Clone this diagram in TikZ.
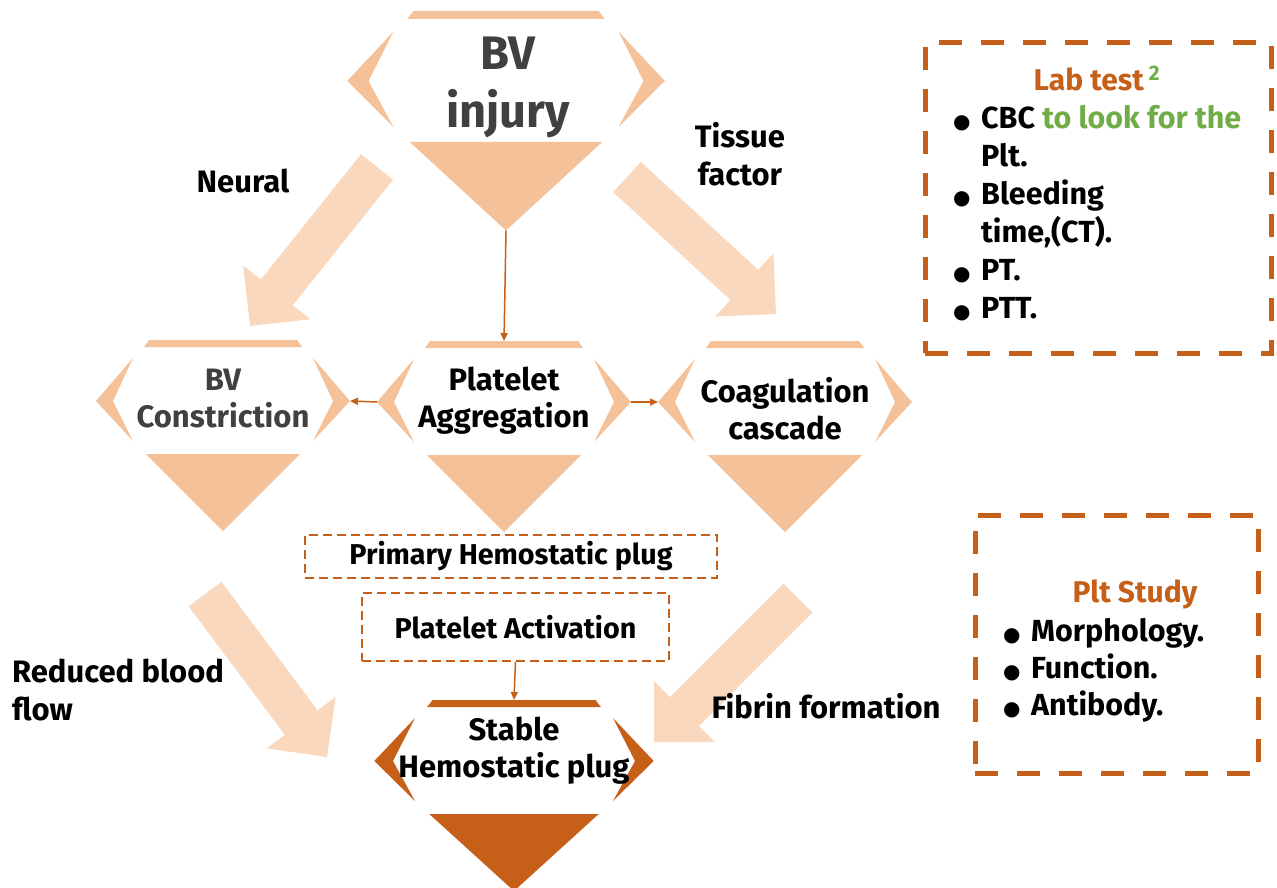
\documentclass[tikz,border=0pt]{standalone}
\usepackage{fontspec}
\setmainfont{Fira Sans}
\newfontfamily\symfont{DejaVu Sans}
\usetikzlibrary{arrows.meta}

\definecolor{gemfill}{HTML}{F5C199}
\definecolor{arrowfill}{HTML}{FAD8BE}
\definecolor{burnt}{HTML}{C65F17}
\definecolor{labgreen}{HTML}{70AD47}
\definecolor{darkgray}{HTML}{404040}

\newcommand\bul{\makebox[28pt][l]{\symfont\mdseries\fontsize{20}{20}\selectfont ●}}

\tikzset{
  gem/.pic={
    \fill (-74,-61) -- (74,-61) -- (79,-54) -- (-79,-54) -- cycle;
    \fill (-90,-43) -- (-127,0) -- (-90,40) -- (-110,0) -- cycle;
    \fill (90,-43) -- (127,0) -- (90,40) -- (110,0) -- cycle;
    \fill (-77,53) -- (77,53) -- (0,130) -- cycle;
    \coordinate (-n) at (0,-61);
    \coordinate (-s) at (0,130);
    \coordinate (-w) at (-127,0);
    \coordinate (-e) at (127,0);
  },
  gemtext/.style={font=\bfseries\fontsize{31}{37}\selectfont, align=center, inner sep=0pt},
  lbl/.style={font=\bfseries\fontsize{31}{38}\selectfont, inner sep=0pt},
  bigarrow/.style={draw=arrowfill, line width=41pt,
    -{Triangle[length=43pt,width=86pt,line width=0pt]}},
  thinarrow/.style={draw=burnt, line width=1.5pt,
    -{Triangle[length=8pt,width=7pt]}},
  dashbox/.style={draw=burnt, line width=1.4pt, dash pattern=on 9pt off 5pt,
    inner sep=0pt, font=\bfseries\fontsize{28.7}{30}\selectfont},
  bigbox/.style={draw=burnt, line width=5pt, dash pattern=on 23pt off 19pt,
    inner sep=0pt},
  listtext/.style={font=\bfseries\fontsize{30.5}{38}\selectfont, align=left, inner sep=0pt},
  titletext/.style={font=\bfseries\fontsize{30}{30}\selectfont, text=burnt, inner sep=0pt},
}

\begin{document}
\begin{tikzpicture}[x=1pt,y=-1pt]
    \useasboundingbox (0,0) rectangle (1277,887);

    % block arrows
    \coordinate (neural-tail) at (377,167);
    \coordinate (neural-head) at (250,326);
    \coordinate (tissue-tail) at (627,177);
    \coordinate (tissue-head) at (776,314);
    \coordinate (flow-tail) at (205,594);
    \coordinate (flow-head) at (327,757);
    \coordinate (fibrin-tail) at (798,598);
    \coordinate (fibrin-head) at (654,742);
    \draw[bigarrow] (neural-tail) -- (neural-head);
    \draw[bigarrow] (tissue-tail) -- (tissue-head);
    \draw[bigarrow] (flow-tail) -- (flow-head);
    \draw[bigarrow] (fibrin-tail) -- (fibrin-head);

    % gems
    \pic[fill=gemfill,xscale=1.25,yscale=1.15] (inj) at (506,81) {gem};
    \pic[fill=gemfill] (con) at (223,401) {gem};
    \pic[fill=gemfill] (agg) at (504,402) {gem};
    \pic[fill=gemfill] (coa) at (785,402) {gem};
    \pic[fill=burnt,xscale=1.1] (stab) at (514,761) {gem};

    \node[gemtext, text=darkgray, font=\bfseries\fontsize{47}{58}\selectfont] (inj) at (508,87.5) {BV\\injury};
    \node[gemtext, text=darkgray] (con) at (223,398.5) {BV\\Constriction};
    \node[gemtext] (agg) at (504,401) {Platelet\\Aggregation};
    \node[gemtext] (coa) at (785,409) {Coagulation\\cascade};
    \node[gemtext] (stab) at (514,751) {Stable\\Hemostatic plug};

    % labels
    \node[lbl, anchor=base] (neural) at (243,192) {Neural};
    \node[lbl, align=center] (tissue) at (740,154.5) {Tissue\\factor};
    \node[lbl, align=left, anchor=west] (flow) at (12,689.5) {Reduced blood\\flow};
    \node[lbl, anchor=base] (fibrin) at (826,718) {Fibrin formation};

    % plug boxes
    \node[dashbox, minimum width=412pt, minimum height=43pt] (prim) at (511,556.5) {Primary Hemostatic plug};
    \node[dashbox, minimum width=307pt, minimum height=68pt] (act) at (515.5,627) {Platelet Activation};

    \draw[thinarrow] (inj-s) -- (agg-n);
    \draw[thinarrow] (agg-w) -- (con-e);
    \draw[thinarrow] (agg-e) -- (coa-w);
    \draw[thinarrow] (act.south) -- (stab-n);

    % lab test box
    \node[bigbox, minimum width=346pt, minimum height=311pt] (lab) at (1098,197.5) {};
    \node[titletext, anchor=base] (labt) at (1097,90) {Lab test\,\textsuperscript{\textcolor{labgreen}{2}}};
    \node[listtext, anchor=north west] (labl) at (953,105) {%
      \bul CBC \textcolor{labgreen}{to look for the}\\
      \hspace*{28pt}Plt.\\
      \bul Bleeding\\
      \hspace*{28pt}time,(CT).\\
      \bul PT.\\
      \bul PTT.};

    % plt study box
    \node[bigbox, minimum width=283pt, minimum height=258pt] (plt) at (1116.5,644) {};
    \node[titletext, anchor=base] (pltt) at (1135,602) {Plt Study};
    \node[listtext, font=\bfseries\fontsize{30.5}{37}\selectfont, anchor=north west] (pltl) at (1003,618) {%
      \bul Morphology.\\
      \bul Function.\\
      \bul Antibody.};
\end{tikzpicture}
\end{document}
